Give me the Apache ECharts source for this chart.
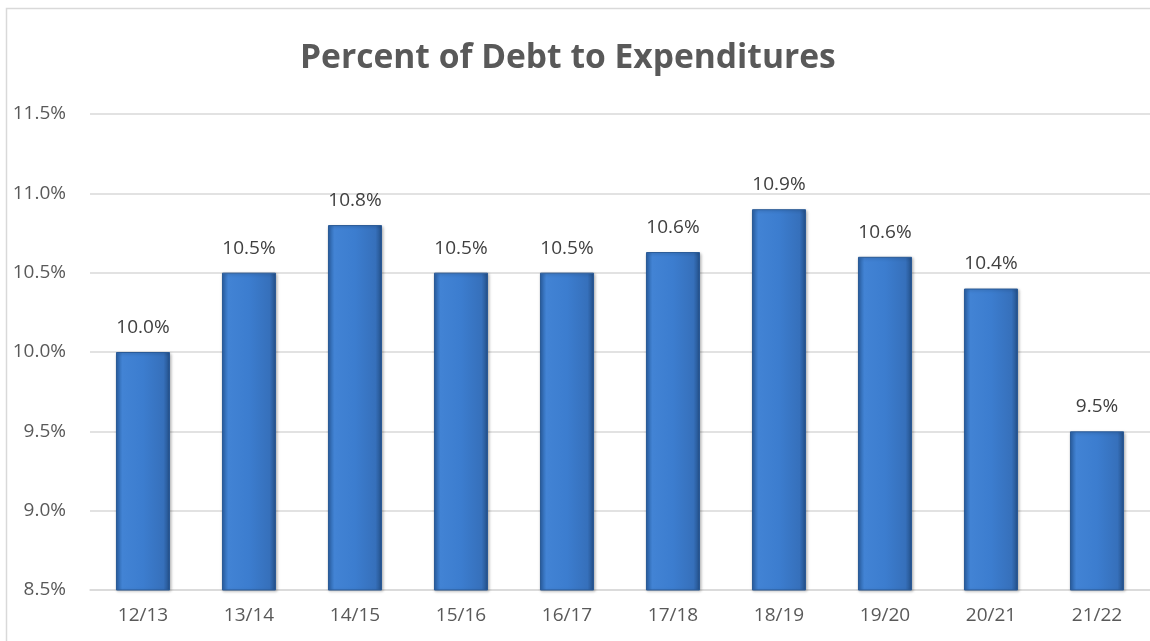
<!DOCTYPE html>
<html>
<head>
<meta charset="utf-8">
<script src="https://cdn.jsdelivr.net/npm/echarts@6/dist/echarts.min.js"></script>
<style>
    html, body { margin: 0; padding: 0; background: #fff; }
    #chart { width: 1150px; height: 641px; }
</style>
</head>
<body>
<div id="chart"></div>
<script>
// ---DATA
var years = ['12/13', '13/14', '14/15', '15/16', '16/17', '17/18', '18/19', '19/20', '20/21', '21/22'];
var debtPct = [10.0, 10.5, 10.8, 10.5, 10.5, 10.63, 10.9, 10.6, 10.4, 9.5];
var yTicks = [8.5, 9.0, 9.5, 10.0, 10.5, 11.0, 11.5];

var chart = echarts.init(document.getElementById('chart'));

// horizontal gradient, darker at the edges (bevel look)
var barColor = new echarts.graphic.LinearGradient(0, 0, 1, 0, [
    { offset: 0, color: '#2b62a8' },
    { offset: 0.12, color: '#4283d4' },
    { offset: 0.5, color: '#3c7dcf' },
    { offset: 0.88, color: '#3670bb' },
    { offset: 1, color: '#234f87' }
]);

option1 = {
    animation: false,
    textStyle: { fontFamily: 'Open Sans' },
    title: {
        text: 'Percent of Debt to Expenditures',
        left: 300,
        top: 41,
        padding: 0,
        textStyle: {
            color: '#595959',
            fontSize: 33.6,
            fontWeight: 'bold',
            fontFamily: 'Open Sans'
        }
    },
    graphic: [{
        type: 'rect',
        shape: { x: 6.5, y: 8.5, width: 1160, height: 660 },
        style: { fill: null, stroke: '#d9d9d9', lineWidth: 1.5 },
        silent: true
    }],
    grid: {
        left: 90,
        top: 114,
        width: 1068,
        bottom: 51,
        containLabel: false
    },
    xAxis: {
        type: 'category',
        data: years,
        axisLine: { lineStyle: { color: '#d9d9d9', width: 1.5 } },
        axisTick: { show: false },
        axisLabel: {
            color: '#595959',
            fontSize: 19,
            margin: 16
        }
    },
    yAxis: {
        type: 'value',
        min: 8.5,
        max: 11.5,
        interval: 0.5,
        axisLine: { show: false },
        axisTick: { show: false },
        splitLine: { lineStyle: { color: '#d9d9d9', width: 1.5 } },
        axisLabel: {
            color: '#595959',
            fontSize: 19,
            margin: 24,
            formatter: function (v) {
                return yTicks.indexOf(v) >= 0 ? v.toFixed(1) + '%' : '';
            }
        }
    },
    series: [{
        name: 'Debt',
        type: 'bar',
        barWidth: '51%',
        data: debtPct,
        itemStyle: {
            color: barColor,
            borderColor: '#2a5a96',
            borderWidth: 1,
            shadowColor: 'rgba(0,0,0,0.25)',
            shadowBlur: 3,
            shadowOffsetX: 1,
            shadowOffsetY: 1
        },
        label: {
            show: true,
            position: 'top',
            distance: 15,
            color: '#404040',
            fontSize: 19,
            formatter: function (p) {
                return p.value.toFixed(1) + '%';
            }
        }
    }]
};
chart.setOption(option1);
</script>
</body>
</html>
